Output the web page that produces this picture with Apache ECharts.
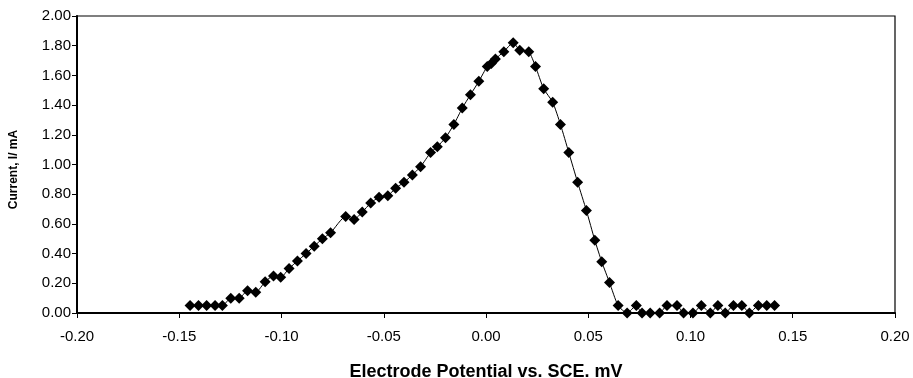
<!DOCTYPE html>
<html>
<head>
<meta charset="utf-8">
<script src="https://cdn.jsdelivr.net/npm/echarts@6/dist/echarts.min.js"></script>
<style>
  html, body { margin: 0; padding: 0; background: #fff; }
  #chart { width: 913px; height: 378px; }
</style>
</head>
<body>
<div id="chart"></div>
<script>
// Electrode potential (V vs. SCE) for each measured point
const potential = [
  -0.1447, -0.1406, -0.1366, -0.1325, -0.1289, -0.1248, -0.1207, -0.1166, -0.1126, -0.1080,
  -0.1039, -0.1004, -0.0963, -0.0922, -0.0880, -0.0840, -0.0800, -0.0760, -0.0686, -0.0645,
  -0.0605, -0.0564, -0.0523, -0.0480, -0.0442, -0.0401, -0.0360, -0.0320, -0.0271, -0.0238,
  -0.0198, -0.0157, -0.0116, -0.0076, -0.0035, 0.0006, 0.0026, 0.0046, 0.0087, 0.0133,
  0.0165, 0.0209, 0.0242, 0.0282, 0.0326, 0.0364, 0.0405, 0.0448, 0.0491, 0.0532,
  0.0566, 0.0604, 0.0646, 0.0690, 0.0735, 0.0763, 0.0803, 0.0849, 0.0885, 0.0934,
  0.0966, 0.1012, 0.1053, 0.1097, 0.1134, 0.1170, 0.1210, 0.1251, 0.1288, 0.1332,
  0.1373, 0.1411
];

// Measured current (mA) at each potential
const current = [
  0.05, 0.05, 0.05, 0.05, 0.05, 0.10, 0.10, 0.15, 0.14, 0.21,
  0.25, 0.24, 0.30, 0.35, 0.40, 0.45, 0.50, 0.54, 0.65, 0.63,
  0.68, 0.74, 0.78, 0.79, 0.84, 0.88, 0.93, 0.985, 1.08, 1.12,
  1.18, 1.27, 1.38, 1.47, 1.56, 1.66, 1.68, 1.71, 1.76, 1.82,
  1.77, 1.76, 1.66, 1.51, 1.42, 1.27, 1.08, 0.88, 0.69, 0.49,
  0.345, 0.205, 0.05, 0.00, 0.05, 0.00, 0.00, 0.00, 0.05, 0.05,
  0.00, 0.00, 0.05, 0.00, 0.05, 0.00, 0.05, 0.05, 0.00, 0.05,
  0.05, 0.05
];

const xTitle = 'Electrode Potential vs. SCE. mV';
const yTitle = 'Current, I/ mA';

const points = potential.map((p, i) => [p, current[i]]);
const font = "'Liberation Sans', Arial, sans-serif";

const chart = echarts.init(document.getElementById('chart'), null, { renderer: 'canvas' });
chart.setOption({
  animation: false,
  backgroundColor: '#fff',
  grid: {
    left: 77, right: 18, top: 16, bottom: 65,
    show: true, borderColor: '#000', borderWidth: 1.2,
    containLabel: false,
    outerBoundsMode: 'none'
  },
  xAxis: {
    type: 'value',
    min: -0.2, max: 0.2, interval: 0.05,
    name: xTitle,
    nameLocation: 'middle',
    nameGap: 50,
    nameTextStyle: { fontFamily: font, fontWeight: 'bold', fontSize: 18, color: '#000' },
    axisLine: { show: true, onZero: false, lineStyle: { color: '#000', width: 2 } },
    axisTick: { show: true, inside: false, length: 5, lineStyle: { color: '#000', width: 1 } },
    axisLabel: {
      fontFamily: font, fontSize: 15, color: '#000', margin: 16,
      formatter: v => v.toFixed(2)
    },
    splitLine: { show: false }
  },
  yAxis: {
    type: 'value',
    min: 0, max: 2, interval: 0.2,
    name: yTitle,
    nameLocation: 'middle',
    nameGap: 57,
    nameRotate: 90,
    nameTextStyle: { fontFamily: font, fontWeight: 'bold', fontSize: 12, color: '#000', padding: [0, 10, 0, 0] },
    axisLine: { show: true, onZero: false, lineStyle: { color: '#000', width: 2 } },
    axisTick: { show: true, inside: false, length: 5, lineStyle: { color: '#000', width: 1 } },
    axisLabel: {
      fontFamily: font, fontSize: 15, color: '#000', margin: 6,
      formatter: v => v.toFixed(2)
    },
    splitLine: { show: false }
  },
  series: [{
    type: 'line',
    data: points,
    smooth: 0.2,
    symbol: 'diamond',
    symbolSize: 11,
    showAllSymbol: true,
    lineStyle: { color: '#000', width: 1 },
    itemStyle: { color: '#000' },
    clip: false
  }]
});
</script>
</body>
</html>
